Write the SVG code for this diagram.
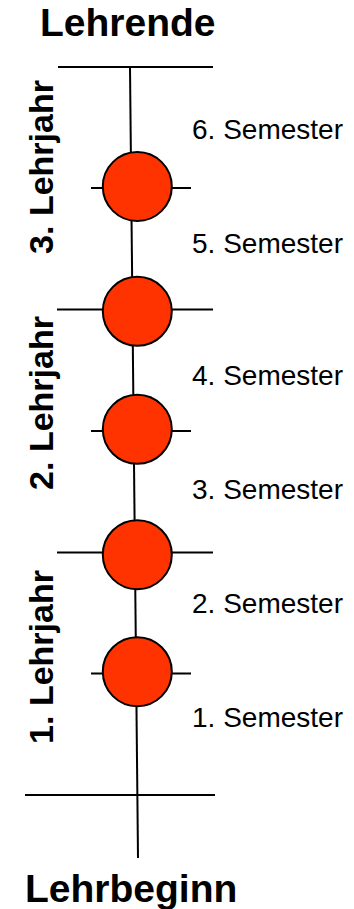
<svg xmlns="http://www.w3.org/2000/svg" width="354" height="909" viewBox="0 0 354 909">
<style>
.ln{stroke:#000;stroke-width:2;fill:none}
.node{fill:#FF3300;stroke:#000;stroke-width:2}
.title{font-family:"Liberation Sans",Arial,sans-serif;font-weight:bold;font-size:39px;fill:#000}
.year{font-family:"Liberation Sans",Arial,sans-serif;font-weight:bold;font-size:34px;fill:#000}
.sem{font-family:"Liberation Sans",Arial,sans-serif;font-size:28px;fill:#000}
</style>
<rect width="354" height="909" fill="#fff"/>
<g id="connectors">
<line class="ln" x1="130" y1="67" x2="138" y2="858"/>
<line class="ln" x1="58" y1="67" x2="213" y2="67"/>
<line class="ln" x1="25" y1="795" x2="215" y2="795"/>
<line class="ln" x1="91" y1="188" x2="191" y2="188"/>
<line class="ln" x1="57" y1="309.5" x2="213" y2="309.5"/>
<line class="ln" x1="91" y1="431" x2="191" y2="431"/>
<line class="ln" x1="57" y1="552.5" x2="213" y2="552.5"/>
<line class="ln" x1="91" y1="673.5" x2="191" y2="673.5"/>
</g>
<g id="n1"><circle class="node" cx="137.3" cy="186.5" r="34.5"/></g>
<g id="n2"><circle class="node" cx="137.3" cy="311.3" r="34.5"/></g>
<g id="n3"><circle class="node" cx="137.3" cy="429.3" r="34.5"/></g>
<g id="n4"><circle class="node" cx="137.3" cy="554.7" r="34.5"/></g>
<g id="n5"><circle class="node" cx="137.3" cy="671.7" r="34.5"/></g>
<g id="labels">
<text class="title" x="40" y="36">Lehrende</text>
<text class="title" x="25" y="902">Lehrbeginn</text>
<text class="sem" x="192" y="139">6. Semester</text>
<text class="sem" x="192" y="253">5. Semester</text>
<text class="sem" x="192" y="385">4. Semester</text>
<text class="sem" x="192" y="499">3. Semester</text>
<text class="sem" x="192" y="613">2. Semester</text>
<text class="sem" x="192" y="727">1. Semester</text>
<text class="year" text-anchor="middle" transform="translate(53,167) rotate(-90)">3. Lehrjahr</text>
<text class="year" text-anchor="middle" transform="translate(53,403) rotate(-90)">2. Lehrjahr</text>
<text class="year" text-anchor="middle" transform="translate(53,657) rotate(-90)">1. Lehrjahr</text>
</g>
</svg>
